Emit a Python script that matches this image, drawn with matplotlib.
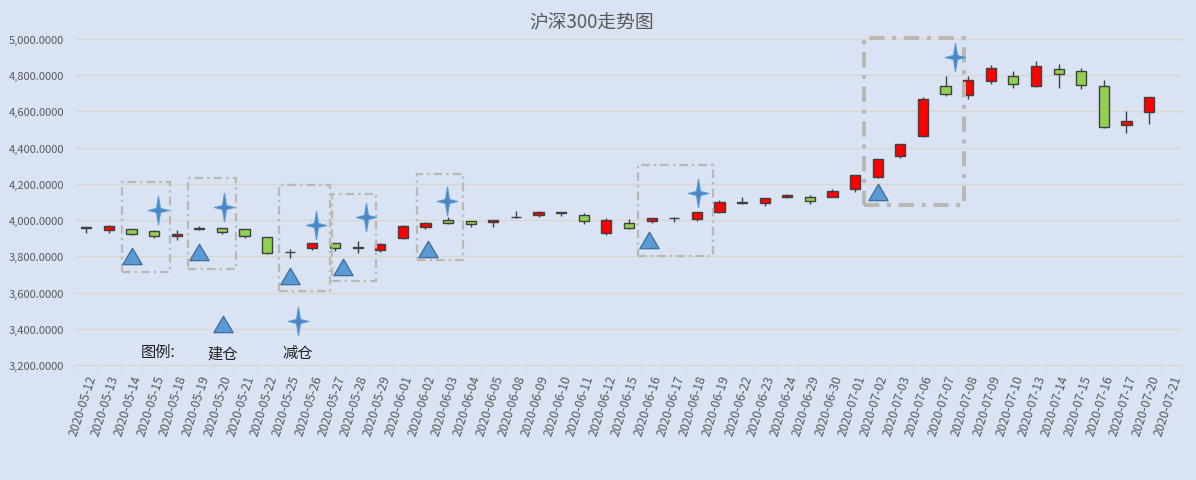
import numpy as np
import matplotlib.pyplot as plt
from matplotlib.path import Path
from matplotlib.patches import Rectangle
from matplotlib.ticker import FuncFormatter, FixedLocator

plt.rcParams['font.family'] = ['Noto Sans CJK SC', 'DejaVu Sans']

dates = ["2020-05-12", "2020-05-13", "2020-05-14", "2020-05-15", "2020-05-18", "2020-05-19",
         "2020-05-20", "2020-05-21", "2020-05-22", "2020-05-25", "2020-05-26", "2020-05-27",
         "2020-05-28", "2020-05-29", "2020-06-01", "2020-06-02", "2020-06-03", "2020-06-04",
         "2020-06-05", "2020-06-08", "2020-06-09", "2020-06-10", "2020-06-11", "2020-06-12",
         "2020-06-15", "2020-06-16", "2020-06-17", "2020-06-18", "2020-06-19", "2020-06-22",
         "2020-06-23", "2020-06-24", "2020-06-29", "2020-06-30", "2020-07-01", "2020-07-02",
         "2020-07-03", "2020-07-06", "2020-07-07", "2020-07-08", "2020-07-09", "2020-07-10",
         "2020-07-13", "2020-07-14", "2020-07-15", "2020-07-16", "2020-07-17", "2020-07-20",
         "2020-07-21"]
nan = np.nan
opens = [3960, 3944, 3949, 3938, 3911, 3953, 3955, 3949, 3905, 3826, 3844, 3872, 3846, 3834,
         3900, 3964, 4000, 3993, 3989, 4016, 4027, 4043, 4027, 3927, 3982, 3994, 4012, 4005,
         4043, 4094, 4093, 4128, 4128, 4127, 4170, 4236, 4352, 4463, 4739, 4689, 4766, 4794,
         4739, 4833, 4822, 4739, 4524, 4595, nan]
highs = [3964, 3971, 3950, 3944, 3944, 3967, 3957, 3950, 3906, 3842, 3874, 3874, 3885, 3874,
         3973, 3991, 4016, 3995, 4003, 4049, 4050, 4046, 4039, 4010, 4006, 4012, 4017, 4047,
         4111, 4126, 4124, 4144, 4139, 4172, 4250, 4338, 4421, 4678, 4794, 4797, 4856, 4822,
         4877, 4860, 4838, 4772, 4601, 4680, nan]
lows = [3929, 3927, 3918, 3903, 3892, 3944, 3922, 3903, 3815, 3793, 3837, 3831, 3817, 3826,
        3898, 3953, 3981, 3964, 3964, 4014, 4016, 4021, 3977, 3920, 3953, 3982, 3988, 3997,
        4042, 4090, 4076, 4120, 4087, 4125, 4157, 4234, 4345, 4460, 4687, 4667, 4753, 4731,
        4737, 4728, 4722, 4510, 4483, 4533, nan]
closes = [3957, 3967, 3922, 3911, 3922, 3956, 3933, 3911, 3820, 3823, 3872, 3844, 3854, 3866,
          3966, 3982, 3983, 3978, 4000, 4018, 4045, 4040, 3993, 4001, 3955, 4010, 4014, 4045,
          4100, 4098, 4122, 4138, 4108, 4161, 4247, 4336, 4419, 4667, 4695, 4772, 4838, 4750,
          4849, 4805, 4744, 4512, 4546, 4678, nan]

# 建仓 (triangles) and 减仓 (stars), x in category index units
build_x = [2, 5, 9, 11.35, 15.1, 24.9, 35]
build_y = [3800, 3824, 3691, 3743, 3840, 3889, 4154]
reduce_x = [3.16, 6.08, 10.16, 12.35, 15.95, 27.05, 38.4]
reduce_y = [4055, 4073, 3972, 4019, 4106, 4152, 4900]

# dash-dot highlight boxes
box_x0 = [1.57, 4.49, 8.53, 10.86, 14.62, 24.42, 34.38]
box_x1 = [3.70, 6.62, 10.78, 12.82, 16.65, 27.70, 38.80]
box_y0 = [3712, 3730, 3607, 3664, 3782, 3800, 4083]
box_y1 = [4212, 4231, 4196, 4142, 4257, 4306, 5004]

BG = "#dae3f3"
UP = "#ff0000"
DOWN = "#92d050"
EDGE = "#404040"
MARK = "#5b9bd5"
TEXT = "#595959"

star = Path([(0, 1.4), (0.2, 0.2), (1, 0), (0.2, -0.2), (0, -1.4), (-0.2, -0.2),
             (-1, 0), (-0.2, 0.2), (0, 1.4)],
            [Path.MOVETO] + [Path.LINETO] * 7 + [Path.CLOSEPOLY])
tri = Path([(0, 0.85), (1, -0.85), (-1, -0.85), (0, 0.85)],
           [Path.MOVETO, Path.LINETO, Path.LINETO, Path.CLOSEPOLY])

fig = plt.figure(figsize=(11.96, 4.81), dpi=100, facecolor=BG)
ax = fig.add_axes([0.0627, 0.2391, 0.9264, 0.6777], facecolor=BG)

x = np.arange(len(dates))
o = np.array(opens, float)
c = np.array(closes, float)
h = np.array(highs, float)
l = np.array(lows, float)
ok = ~np.isnan(o)
colors = [UP if cc >= oo else DOWN for oo, cc in zip(o, c)]

ax.vlines(x[ok], l[ok], h[ok], color=EDGE, linewidth=1, zorder=2)
ax.bar(x[ok], np.maximum(np.abs(c - o)[ok], 2), bottom=np.minimum(o, c)[ok], width=0.45,
       color=[colors[i] for i in x[ok]], edgecolor=EDGE, linewidth=1, zorder=3)

for x0, x1, y0, y1 in zip(box_x0, box_x1, box_y0, box_y1):
    lw = 2.9 if y1 > 4900 else 1.6
    ax.add_patch(Rectangle((x0, y0), x1 - x0, y1 - y0, fill=False, edgecolor="#bab8b4",
                           linewidth=lw, linestyle=(0, (3.8, 1.9, 1, 1.9)), zorder=4,
                           clip_on=False))

ax.scatter(build_x, build_y, marker=tri, s=190, color=MARK, edgecolor="#41719c",
           linewidth=1, zorder=5)
ax.scatter(reduce_x, reduce_y, marker=star, s=420, color="#4a86c4", edgecolor=MARK,
           linewidth=0.8, zorder=5)

# legend drawn inside the plot area
ax.scatter([0.1336], [0.126], marker=tri, s=190, color=MARK, edgecolor="#41719c",
           linewidth=1, transform=ax.transAxes, clip_on=False, zorder=5)
ax.scatter([0.2013], [0.135], marker=star, s=420, color="#4a86c4", edgecolor=MARK,
           linewidth=0.8, transform=ax.transAxes, clip_on=False, zorder=5)
ax.text(0.0749, 0.042, "图例:", transform=ax.transAxes, ha="center", va="center",
        fontsize=11, color="#222222")
ax.text(0.1336, 0.037, "建仓", transform=ax.transAxes, ha="center", va="center",
        fontsize=11, color="#222222")
ax.text(0.2013, 0.037, "减仓", transform=ax.transAxes, ha="center", va="center",
        fontsize=11, color="#222222")

ax.set_xlim(-0.5, len(dates) - 0.5)
ax.set_ylim(3200, 5000)
ax.set_yticks(np.arange(3200, 5001, 200))
ax.yaxis.set_major_formatter(FuncFormatter(lambda v, p: f"{v:,.4f}"))
ax.grid(axis="y", color="#d9d7d0", linewidth=1, zorder=0)
ax.set_axisbelow(True)

ax.set_xticks(x)
ax.set_xticklabels(dates, rotation=72, ha="right", rotation_mode="anchor", fontsize=8.8,
                   color=TEXT)
ax.xaxis.set_minor_locator(FixedLocator(np.arange(-0.5, len(dates), 1)))
ax.tick_params(axis="x", which="major", length=0, pad=6)
ax.tick_params(axis="x", which="minor", length=4, color="#d9d7d0")
ax.tick_params(axis="y", length=0, labelsize=8, labelcolor=TEXT, pad=8)

for s in ["top", "right", "left"]:
    ax.spines[s].set_visible(False)
ax.spines["bottom"].set_color("#d9d7d0")

fig.text(0.495, 0.952, "沪深300走势图", ha="center", va="center", fontsize=13.5, color=TEXT)

fig.savefig("out.png", dpi=100, facecolor=BG)
